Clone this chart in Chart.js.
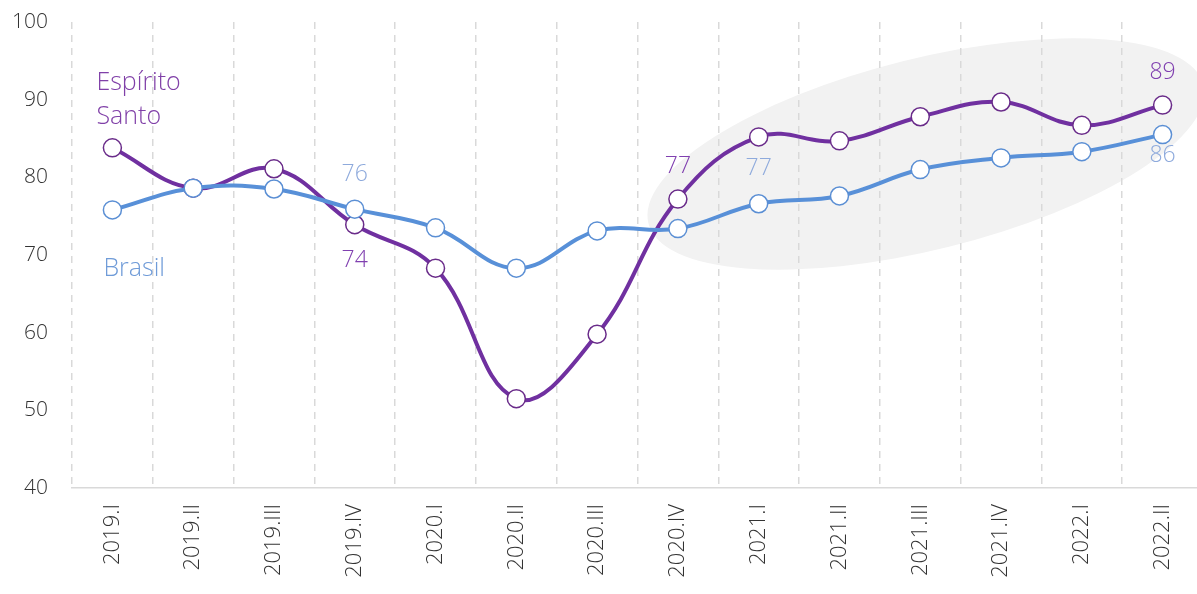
<!DOCTYPE html>
<html>
<head>
<meta charset="utf-8">
<script src="https://cdn.jsdelivr.net/npm/chart.js@4/dist/chart.umd.min.js"></script>
<style>
  html, body { margin: 0; padding: 0; background: #fff; overflow: hidden; }
  #wrap { width: 1205px; height: 594px; }
</style>
</head>
<body>
<div id="wrap"><canvas id="chart" width="1205" height="594"></canvas></div>
<script>
// quarters
const quarters = ['2019.I', '2019.II', '2019.III', '2019.IV', '2020.I', '2020.II', '2020.III', '2020.IV',
                  '2021.I', '2021.II', '2021.III', '2021.IV', '2022.I', '2022.II']
// Espírito Santo index
const espiritoSanto = [83.8, 78.6, 81.1, 73.9, 68.3, 51.5, 59.8, 77.2, 85.2, 84.7, 87.8, 89.7, 86.7, 89.3]
// Brasil index
const brasil = [75.8, 78.6, 78.5, 75.9, 73.5, 68.3, 73.1, 73.4, 76.6, 77.6, 81.0, 82.5, 83.3, 85.5]
// which points get a value label, and where
const esLabelIdx = [3, 7, 13]
const esLabelPos = ['below', 'above', 'above']
const brLabelIdx = [3, 8, 13]
const brLabelPos = ['above', 'above', 'below']
const yTicks = [40, 50, 60, 70, 80, 90, 100]

const FONT = '"Segoe UI", "Open Sans", "Noto Sans", sans-serif'
const PURPLE = '#7030a0'
const BLUE = '#5890d8'

// grey highlight ellipse behind the last quarters
const ellipsePlugin = {
    id: 'ellipse',
    beforeDraw(chart) {
        const x = chart.scales.x, y = chart.scales.y
        const step = x.getPixelForValue(1) - x.getPixelForValue(0)
        const cx = x.getPixelForValue(10) + step * 0.07
        const cy = y.getPixelForValue(83)
        const unit = y.getPixelForValue(80) - y.getPixelForValue(90)
        const ctx = chart.ctx
        ctx.save()
        ctx.fillStyle = '#f2f2f2'
        ctx.beginPath()
        ctx.ellipse(cx, cy, step * 3.54, unit * 1.23, -14 * Math.PI / 180, 0, Math.PI * 2)
        ctx.fill()
        ctx.restore()
    }
}

// value labels + series names
const labelPlugin = {
    id: 'valueLabels',
    afterDatasetsDraw(chart) {
        const ctx = chart.ctx
        const x = chart.scales.x, y = chart.scales.y
        ctx.save()
        ctx.font = '300 23px ' + FONT
        ctx.textAlign = 'center'
        ctx.textBaseline = 'middle'
        const drawSet = (data, idx, pos, color, offAbove, offBelow) => {
            ctx.fillStyle = color
            idx.forEach((i, k) => {
                const px = x.getPixelForValue(i)
                const py = y.getPixelForValue(data[i])
                const dy = pos[k] === 'above' ? -offAbove : offBelow
                ctx.fillText(Math.round(data[i]), px, py + dy)
            })
        }
        drawSet(espiritoSanto, esLabelIdx, esLabelPos, '#8040b0', 33, 36)
        drawSet(brasil, brLabelIdx, brLabelPos, '#8eaadc', 35, 21)

        ctx.font = '300 25px ' + FONT
        ctx.textAlign = 'left'
        ctx.fillStyle = '#8040a8'
        const lx = x.getPixelForValue(0) - 16
        ctx.fillText('Espírito', lx, y.getPixelForValue(92.1))
        ctx.fillText('Santo', lx, y.getPixelForValue(87.8))
        ctx.fillStyle = '#6f9bd8'
        ctx.fillText('Brasil', lx + 7, y.getPixelForValue(68.2))
        ctx.restore()
    }
}

new Chart(document.getElementById('chart'), {
    type: 'line',
    data: {
        labels: quarters,
        datasets: [{
            label: 'Brasil',
            data: brasil,
            borderColor: BLUE,
            borderWidth: 4,
            tension: 0.4,
            pointRadius: 9,
            pointBackgroundColor: '#fff',
            pointBorderColor: '#5b8fd4',
            pointBorderWidth: 1.5
        }, {
            label: 'Espírito Santo',
            data: espiritoSanto,
            borderColor: PURPLE,
            borderWidth: 4,
            tension: 0.4,
            pointRadius: 9,
            pointBackgroundColor: '#fff',
            pointBorderColor: '#6a2c8a',
            pointBorderWidth: 1.5
        }]
    },
    options: {
        responsive: false,
        animation: false,
        layout: { autoPadding: false, padding: { top: 22, right: 0 } },
        plugins: { legend: { display: false }, tooltip: { enabled: false } },
        scales: {
            x: {
                offset: true,
                grid: {
                    offset: true,
                    color: '#d9d9d9',
                    lineWidth: 1.5,
                    drawTicks: false
                },
                border: { display: true, color: '#d9d9d9', width: 1.5, dash: [7, 6] },
                ticks: {
                    color: '#333',
                    font: { family: FONT, size: 22, weight: 300 },
                    maxRotation: 90,
                    minRotation: 90,
                    padding: 16,
                    autoSkip: false
                },
                afterFit(scale) { scale.height = 106 }
            },
            y: {
                min: 40,
                max: 100,
                afterBuildTicks(scale) { scale.ticks = yTicks.map(v => ({ value: v })) },
                grid: { display: false, drawTicks: false },
                border: { display: false },
                ticks: {
                    color: '#333',
                    font: { family: FONT, size: 21, weight: 300 },
                    padding: 24
                },
                afterFit(scale) {
                    scale.width = 72
                    scale.paddingTop = 0
                    scale.paddingBottom = 0
                }
            }
        }
    },
    plugins: [ellipsePlugin, labelPlugin]
})
</script>
</body>
</html>
